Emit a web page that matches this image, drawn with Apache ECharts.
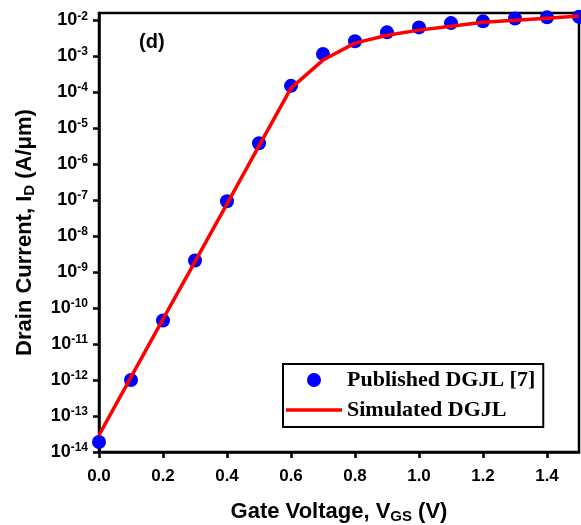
<!DOCTYPE html>
<html>
<head>
<meta charset="utf-8">
<script src="https://cdn.jsdelivr.net/npm/echarts@6/dist/echarts.min.js"></script>
<style>html,body{margin:0;padding:0;background:#fff;}#c{width:581px;height:525px;}</style>
</head>
<body>
<div id="c"></div>
<script>
// Data
const vgsPublished = [0.0, 0.1, 0.2, 0.3, 0.4, 0.5, 0.6, 0.7, 0.8, 0.9, 1.0, 1.1, 1.2, 1.3, 1.4, 1.5];
const idPublished = [1.9e-14, 1.0e-12, 4.5e-11, 2.1e-9, 9.3e-8, 3.8e-6, 1.5e-4, 1.15e-3, 2.6e-3, 4.6e-3, 6.3e-3, 8.3e-3, 9.3e-3, 1.12e-2, 1.2e-2, 1.25e-2];
const vgsSimulated = [0.0, 0.1, 0.2, 0.3, 0.4, 0.5, 0.6, 0.7, 0.8, 0.9, 1.0, 1.1, 1.2, 1.3, 1.4, 1.5];
const idSimulated = [2.95e-14, 1.2e-12, 4.9e-11, 1.95e-9, 7.9e-8, 3.2e-6, 1.3e-4, 7.8e-4, 2.3e-3, 3.8e-3, 5.3e-3, 6.8e-3, 8.8e-3, 1.0e-2, 1.14e-2, 1.3e-2];
const xTicks = [0.0, 0.2, 0.4, 0.6, 0.8, 1.0, 1.2, 1.4];
const yTicks = [1e-14, 1e-13, 1e-12, 1e-11, 1e-10, 1e-9, 1e-8, 1e-7, 1e-6, 1e-5, 1e-4, 1e-3, 1e-2];
const seriesNames = ['Published DGJL [7]', 'Simulated DGJL'];

const chart = echarts.init(document.getElementById('c'), null, {renderer: 'canvas'});
const sans = 'Liberation Sans, Arial, sans-serif';
const serif = 'Liberation Serif, Times New Roman, serif';

chart.setOption({
  animation: false,
  backgroundColor: '#fff',
  grid: {left: 99, right: 2, top: 13, bottom: 73, show: true, borderColor: '#000', borderWidth: 2.5,
         containLabel: false, outerBoundsMode: 'none'},
  xAxis: {
    type: 'value', min: 0, max: 1.5, interval: 0.2,
    name: 'Gate Voltage, {n|V}{sub|GS}{n| (V)}',
    nameLocation: 'middle', nameGap: 47,
    nameTextStyle: {
      fontFamily: sans, fontWeight: 'bold', fontSize: 22, color: '#000',
      rich: {
        n: {fontFamily: sans, fontWeight: 'bold', fontSize: 22, color: '#000'},
        sub: {fontFamily: sans, fontWeight: 'bold', fontSize: 15, color: '#000', padding: [10, 0, 0, 0]}
      }
    },
    axisLine: {lineStyle: {color: '#000', width: 2.5}},
    axisTick: {inside: false, length: 6, lineStyle: {color: '#000', width: 2.5}, customValues: xTicks},
    axisLabel: {
      customValues: xTicks, margin: 16,
      fontFamily: sans, fontWeight: 'bold', fontSize: 17, color: '#000',
      formatter: v => v.toFixed(1)
    },
    splitLine: {show: false}
  },
  yAxis: {
    type: 'log', logBase: 10, min: 1e-14, max: Math.pow(10, -1.8),
    name: 'Drain Current, {n|I}{sub|D}{n| (A/μm)}',
    nameLocation: 'middle', nameGap: 62, nameRotate: 90,
    nameTextStyle: {
      fontFamily: sans, fontWeight: 'bold', fontSize: 22, color: '#000',
      rich: {
        n: {fontFamily: sans, fontWeight: 'bold', fontSize: 22, color: '#000'},
        sub: {fontFamily: sans, fontWeight: 'bold', fontSize: 15, color: '#000', padding: [10, 0, 0, 0]}
      }
    },
    axisLine: {lineStyle: {color: '#000', width: 2.5}},
    axisTick: {inside: false, length: 6, lineStyle: {color: '#000', width: 2.5}, customValues: yTicks},
    axisLabel: {
      customValues: yTicks, margin: 11,
      formatter: v => '{b|10}{s|' + Math.round(Math.log10(v)) + '}',
      rich: {
        b: {fontFamily: sans, fontWeight: 'bold', fontSize: 18, color: '#000', lineHeight: 20},
        s: {fontFamily: sans, fontWeight: 'bold', fontSize: 12, color: '#000', verticalAlign: 'top', lineHeight: 12, padding: [0, 0, 7, 0]}
      }
    },
    splitLine: {show: false}
  },
  legend: {
    orient: 'vertical', left: 283, top: 364,
    padding: [5, 8, 6, 3], itemGap: 8, itemWidth: 56, itemHeight: 14,
    borderColor: '#000', borderWidth: 2,
    symbolKeepAspect: true,
    textStyle: {fontFamily: serif, fontWeight: 'bold', fontSize: 22, color: '#000'},
    data: [
      {name: seriesNames[0], icon: 'circle', itemStyle: {color: '#0000ff', opacity: 1}},
      {name: seriesNames[1], icon: 'path://M0,0 L56,0 L56,3.5 L0,3.5 Z', itemStyle: {color: '#ff0000'}}
    ]
  },
  graphic: [{
    type: 'text', left: 139, top: 32,
    style: {text: '(d)', fontFamily: sans, fontWeight: 'bold', fontSize: 20, fill: '#000'}
  }],
  series: [
    {
      name: seriesNames[0], type: 'scatter', symbol: 'circle', symbolSize: 14,
      itemStyle: {color: '#0000ff', opacity: 1},
      data: vgsPublished.map((x, i) => [x, idPublished[i]]),
      z: 2
    },
    {
      name: seriesNames[1], type: 'line', symbol: 'none', smooth: false,
      lineStyle: {color: '#ff0000', width: 3.5},
      itemStyle: {color: '#ff0000'},
      data: vgsSimulated.map((x, i) => [x, idSimulated[i]]),
      z: 3
    }
  ]
});
</script>
</body>
</html>
